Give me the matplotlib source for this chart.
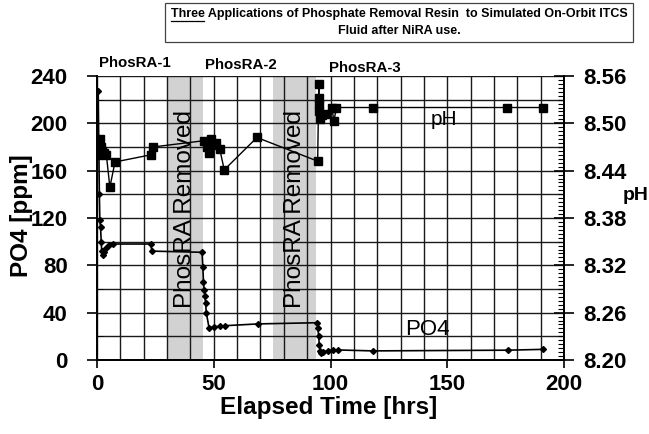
import numpy as np
import matplotlib
matplotlib.use("Agg")
import matplotlib.pyplot as plt
from matplotlib.ticker import MultipleLocator, FixedLocator, FormatStrFormatter
from matplotlib.patches import Rectangle

plt.rcParams["font.family"] = ["Liberation Sans", "DejaVu Sans"]

# ── Data ────────────────────────────────────────────────────────────────
t_po4 = [0.5, 1.0, 1.2, 1.5, 1.8, 2.0, 2.5, 3.0, 4.0, 5.0, 7.0, 23.0, 23.5,
         45.0, 45.3, 45.6, 45.9, 46.2, 46.5, 46.8, 48.0, 50.0, 52.5, 55.0, 69.0,
         94.3, 94.6, 94.9, 95.2, 95.5, 96.0, 97.0, 99.0, 101.0, 103.0, 118.0,
         176.0, 191.0]
po4 = [227, 140, 118, 112, 100, 92, 89, 91, 95, 97, 98, 98, 92,
       91, 79, 66, 59, 54, 48, 40, 27, 28, 28.5, 29, 30.5,
       31.5, 27, 20, 13, 8, 6, 7, 8, 8.5, 8.5, 7.7,
       8.3, 9]

t_ph = [0.3, 0.8, 1.3, 1.8, 2.3, 3.0, 4.0, 5.5, 7.7, 23.0, 24.0,
        46.0, 47.0, 48.0, 49.0, 50.0, 51.0, 52.5, 54.5, 68.5,
        94.5, 95.0, 95.0, 95.0, 95.2, 95.5, 96.5, 98.0, 100.5, 101.5, 102.5,
        118.0, 175.5, 191.0]
ph = [8.46, 8.47, 8.48, 8.47, 8.465, 8.462, 8.46, 8.419, 8.451, 8.46, 8.47,
      8.478, 8.47, 8.462, 8.48, 8.472, 8.475, 8.468, 8.441, 8.482,
      8.452, 8.55, 8.532, 8.525, 8.515, 8.505, 8.51, 8.512, 8.52, 8.503, 8.52,
      8.52, 8.52, 8.52]

ph_ticks = [8.20, 8.26, 8.32, 8.38, 8.44, 8.50, 8.56]

removed_bands = [(30.3, 45.3), (75.2, 94.0)]
phase_labels = ["PhosRA-1", "PhosRA-2", "PhosRA-3"]
phase_x = [16, 61.5, 114.5]
phase_y = [251, 249, 247]

# ── Figure ──────────────────────────────────────────────────────────────
fig = plt.figure(figsize=(6.49, 4.34), dpi=100)
ax = fig.add_axes([0.1495, 0.1705, 0.7195, 0.6545])
ax2 = ax.twinx()

for x0, x1 in removed_bands:
    ax.axvspan(x0, x1, color="#d2d2d2", zorder=0, lw=0)
    ax.text((x0 + x1) / 2, 128, "PhosRA Removed", rotation=90, ha="center",
            va="center", fontsize=17.5, zorder=3)

ax.set_xlim(0, 200)
ax.set_ylim(0, 240)
ax2.set_ylim(8.20, 8.56)

ax.xaxis.set_major_locator(MultipleLocator(50))
ax.xaxis.set_minor_locator(MultipleLocator(10))
ax.yaxis.set_major_locator(MultipleLocator(40))
ax.yaxis.set_minor_locator(MultipleLocator(20))
ax2.yaxis.set_major_locator(FixedLocator(ph_ticks))
ax2.yaxis.set_minor_locator(FixedLocator(np.arange(8.20, 8.5601, 0.005)))
ax2.yaxis.set_major_formatter(FormatStrFormatter("%.2f"))

ax.grid(which="both", color="#1a1a1a", lw=1.0, zorder=1)
ax.set_axisbelow(True)

ax.tick_params(axis="x", which="major", direction="out", length=6, width=1.2,
               labelsize=16, pad=4)
ax.tick_params(axis="x", which="minor", length=0)
ax.tick_params(axis="y", which="major", direction="out", length=7, width=1.2,
               labelsize=16, pad=14)
ax.tick_params(axis="y", which="minor", direction="in", length=4)
ax2.tick_params(axis="y", which="major", direction="inout", length=14, width=1.2,
                labelsize=16, pad=7)
ax2.tick_params(axis="y", which="minor", direction="in", length=4, width=0.8)

for lab in ax.get_xticklabels() + ax.get_yticklabels() + ax2.get_yticklabels():
    lab.set_fontweight("bold")

for a in (ax, ax2):
    for s in a.spines.values():
        s.set_linewidth(1.3)
ax.spines["top"].set_visible(False)
ax2.spines["top"].set_visible(False)

ax.plot(t_po4, po4, color="black", lw=1.2, marker="D", ms=3, zorder=4)
ax2.plot(t_ph, ph, color="black", lw=1.0, marker="s", ms=6, zorder=4)

ax.text(141.5, 25.5, "PO4", fontsize=16, ha="center", va="center")
ax.text(148.7, 203, "pH", fontsize=15, ha="center", va="center")

for lab, x, y in zip(phase_labels, phase_x, phase_y):
    ax.text(x, y, lab, fontsize=10.8, fontweight="bold", ha="center",
            va="center", clip_on=False)

ax.set_xlabel("Elapsed Time [hrs]", fontsize=17.5, fontweight="bold")
ax.xaxis.set_label_coords(0.497, -0.125)
ax.set_ylabel("PO4 [ppm]", fontsize=17.5, fontweight="bold")
ax.yaxis.set_label_coords(-0.137, 0.51)
fig.text(0.98, 0.55, "pH", fontsize=14, fontweight="bold", ha="center",
         va="center")

# ── Title box ───────────────────────────────────────────────────────────
fig.patches.append(Rectangle((165 / 649, 1 - 42 / 434), (633 - 165) / 649,
                             39 / 434, transform=fig.transFigure,
                             fill=False, ec="#444444", lw=0.9))
line1 = "Three Applications of Phosphate Removal Resin  to Simulated On-Orbit ITCS"
t1 = fig.text(399 / 649, 1 - 14 / 434, line1, fontsize=9, fontweight="bold",
              ha="center", va="center")
fig.text(399 / 649, 1 - 31 / 434, "Fluid after NiRA use.", fontsize=9,
         fontweight="bold", ha="center", va="center")

# underline "Three"
fig.canvas.draw()
r = fig.canvas.get_renderer()
bb = t1.get_window_extent(r)
tmp = fig.text(0, 0, "Three", fontsize=9, fontweight="bold")
wb = tmp.get_window_extent(r)
tmp.remove()
x0 = bb.x0 / fig.bbox.width
x1 = (bb.x0 + wb.width) / fig.bbox.width
yu = (bb.y0 - 1) / fig.bbox.height
fig.add_artist(plt.Line2D([x0, x1], [yu, yu], transform=fig.transFigure,
                          color="black", lw=0.9))

fig.savefig("out.png", dpi=100)
